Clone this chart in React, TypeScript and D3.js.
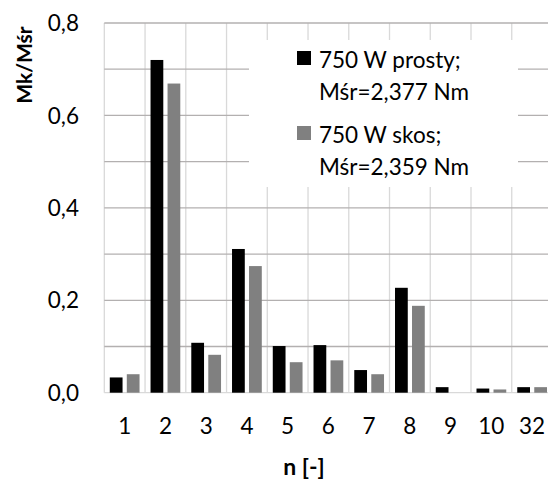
import React from 'react'
import * as d3 from 'd3'

const categories = ['1', '2', '3', '4', '5', '6', '7', '8', '9', '10', '32']
const prosty = [0.033, 0.72, 0.108, 0.311, 0.101, 0.103, 0.049, 0.227, 0.012, 0.009, 0.012]
const skos = [0.040, 0.669, 0.082, 0.274, 0.066, 0.070, 0.040, 0.188, 0, 0.007, 0.012]
const seriesNames = ['750 W prosty;', '750 W skos;']
const seriesSub = ['Mśr=2,377 Nm', 'Mśr=2,359 Nm']
const seriesColors = ['#000000', '#808080']
const yTicks = [0, 0.2, 0.4, 0.6, 0.8]
const yGrid = [0.1, 0.2, 0.3, 0.4, 0.5, 0.6, 0.7, 0.8]

const font = 'Lato, "Open Sans", sans-serif'

const App = () => {
  var width = 548
  var height = 479
  var left = 104.3
  var right = 552.5
  var top = 23
  var bottom = 392.7

  const x = d3.scaleBand().domain(categories).range([left, right]).paddingInner(0).paddingOuter(0)
  const inner = d3.scaleBand().domain(['0', '1']).range([0, x.bandwidth()]).paddingInner(0.25).paddingOuter(0.323)
  const y = d3.scaleLinear().domain([0, 0.8]).range([bottom, top])

  const series = [prosty, skos]

  const vlines = categories.map((c, i) => {
    return <line key={'v' + i} x1={x(c)} x2={x(c)} y1={top} y2={bottom} stroke="#d9d9d9" strokeWidth={1.3}/>
  })

  const hlines = yGrid.map((v, i) => {
    return <line key={'h' + i} x1={left} x2={width} y1={y(v)} y2={y(v)} stroke="#b3b0b0" strokeWidth={1.3}/>
  })

  const bars = series.map((vals, s) => vals.map((v, i) => {
    return <rect key={s + '-' + i} x={x(categories[i]) + inner(String(s))} y={y(v)} width={inner.bandwidth()} height={bottom - y(v)} fill={seriesColors[s]}/>
  }))

  const yLabels = yTicks.map((v, i) => {
    return <text key={'yl' + i} x={79} y={y(v)} dy="0.36em" textAnchor="end" fontSize={22.5}>{d3.format('.1f')(v).replace('.', ',')}</text>
  })

  const xLabels = categories.map((c, i) => {
    return <text key={'xl' + i} x={x(c) + x.bandwidth() / 2} y={434} textAnchor="middle" fontSize={22.5}>{c}</text>
  })

  var legendX = 297
  var legendRows = [51, 126]

  return (
    <svg width={width} height={height} style={{position: 'absolute', left: 0, top: 0}} fontFamily={font} fill="#000">
      <rect x={0} y={0} width={width} height={height} fill="#fff"/>
      <g>{ vlines }</g>
      <g>{ hlines }</g>
      <line x1={left} x2={width} y1={bottom} y2={bottom} stroke="#d9d9d9" strokeWidth={1.3}/>
      <g>{ bars }</g>
      <rect x={249} y={40} width={269} height={147} fill="#fff"/>
      {seriesNames.map((n, s) => (
        <g key={'lg' + s}>
          <rect x={legendX} y={legendRows[s]} width={14} height={14} fill={seriesColors[s]}/>
          <text x={319} y={legendRows[s] + 17.3} fontSize={22.5}>{n}</text>
          <text x={319} y={legendRows[s] + 49} fontSize={22.5}>{seriesSub[s]}</text>
        </g>
      ))}
      <g>{ yLabels }</g>
      <g>{ xLabels }</g>
      <text transform="translate(32,65) rotate(-90)" textAnchor="middle" fontSize={21} fontWeight="bold">Mk/Mśr</text>
      <text x={304} y={475} textAnchor="middle" fontSize={23} fontWeight="bold">n [-]</text>
    </svg>
  )
}

export default App
